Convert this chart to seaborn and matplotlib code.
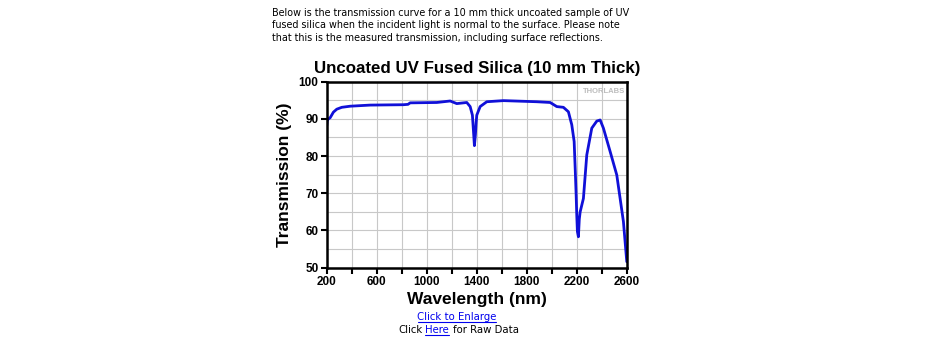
import numpy as np
import pandas as pd
import seaborn as sns
import matplotlib.pyplot as plt
from matplotlib.ticker import MultipleLocator

# values
wavelength = [200, 205, 215, 227, 253, 280, 320, 387, 547, 813, 850, 867, 1080, 1187,
              1240, 1320, 1347, 1365, 1375, 1381, 1389, 1395, 1400, 1427, 1480, 1613,
              1880, 1987, 2040, 2093, 2133, 2160, 2179, 2188, 2195, 2200, 2205, 2213,
              2220, 2227, 2253, 2280, 2320, 2360, 2387, 2413, 2467, 2520, 2573, 2600]
transmission = [88.2, 89.8, 90.0, 90.3, 91.8, 92.6, 93.1, 93.4, 93.7, 93.8, 93.9, 94.3,
                94.4, 94.8, 94.1, 94.4, 93.3, 91.0, 86.0, 82.8, 85.7, 89.0, 91.0, 93.3,
                94.6, 94.9, 94.6, 94.4, 93.3, 93.1, 91.9, 88.4, 83.9, 76.0, 69.5, 64.0,
                59.7, 58.3, 63.0, 65.0, 68.6, 80.3, 87.5, 89.4, 89.7, 87.5, 81.2, 74.9,
                62.4, 51.6]

x_ticks = [200, 600, 1000, 1400, 1800, 2200, 2600]
y_ticks = [50, 60, 70, 80, 90, 100]

intro = ("Below is the transmission curve for a 10 mm thick uncoated sample of UV\n"
         "fused silica when the incident light is normal to the surface. Please note\n"
         "that this is the measured transmission, including surface reflections.")

df = pd.DataFrame({"wavelength": wavelength, "transmission": transmission})

sns.set_style("white")
plt.rcParams['font.family'] = ['DejaVu Sans']
plt.rcParams['text.color'] = 'black'
plt.rcParams['axes.labelcolor'] = 'black'
plt.rcParams['xtick.color'] = 'black'
plt.rcParams['ytick.color'] = 'black'

fig = plt.figure(figsize=(9.39, 3.55), dpi=100)
ax = fig.add_axes([0.348, 0.246, 0.3195, 0.524])

sns.lineplot(data=df, x="wavelength", y="transmission", ax=ax,
             color="#1010d8", linewidth=2)

ax.set_xlim(200, 2600)
ax.set_ylim(50, 100)
ax.set_xticks(x_ticks)
ax.set_yticks(y_ticks)
ax.xaxis.set_minor_locator(MultipleLocator(200))
ax.yaxis.set_minor_locator(MultipleLocator(5))
ax.grid(True, which="both", color="#c8c8c8", linewidth=0.8)
ax.tick_params(which="both", direction="out", length=4, width=1.5, color="black",
               left=True, bottom=True, pad=2)
ax.tick_params(axis="y", which="minor", length=0)

for lab in ax.get_xticklabels() + ax.get_yticklabels():
    lab.set_fontfamily("Liberation Sans")
    lab.set_fontweight("bold")
    lab.set_fontsize(8.5)
    lab.set_color("black")

for side in ["left", "bottom", "top", "right"]:
    ax.spines[side].set_color("black")
    ax.spines[side].set_linewidth(1.8)

ax.set_xlabel("Wavelength (nm)", fontfamily="Liberation Sans", fontweight="bold",
              fontsize=12.5, labelpad=3, color="black")
ax.set_ylabel("Transmission (%)", fontfamily="Liberation Sans", fontweight="bold",
              fontsize=12.5, labelpad=5, color="black")
ax.set_title("Uncoated UV Fused Silica (10 mm Thick)", fontfamily="Liberation Sans",
             fontweight="bold", fontsize=12.2, pad=6, color="black")

ax.text(0.995, 0.965, "THORLABS", transform=ax.transAxes, ha="right", va="top",
        fontsize=5.5, color="#bdbdbd", fontweight="bold", fontfamily="Liberation Sans")

fig.text(272 / 939, 1 - 8 / 355, intro, ha="left", va="top", fontsize=6.95,
         linespacing=1.3, color="black")

fig.text(457 / 939, 1 - 317 / 355, "Click to Enlarge", ha="center", va="center",
         fontsize=7.3, color="#0000ee")
fig.add_artist(plt.Line2D([418 / 939, 496 / 939], [1 - 322 / 355, 1 - 322 / 355],
                          color="#0000ee", linewidth=0.8))
fig.text(398 / 939, 1 - 330 / 355, "Click", ha="left", va="center", fontsize=7.3,
         color="black")
fig.text(425 / 939, 1 - 330 / 355, "Here", ha="left", va="center", fontsize=7.3,
         color="#0000ee")
fig.add_artist(plt.Line2D([425 / 939, 449 / 939], [1 - 335 / 355, 1 - 335 / 355],
                          color="#0000ee", linewidth=0.8))
fig.text(453 / 939, 1 - 330 / 355, "for Raw Data", ha="left", va="center", fontsize=7.3,
         color="black")

fig.savefig("out.png", dpi=100, facecolor="white")
